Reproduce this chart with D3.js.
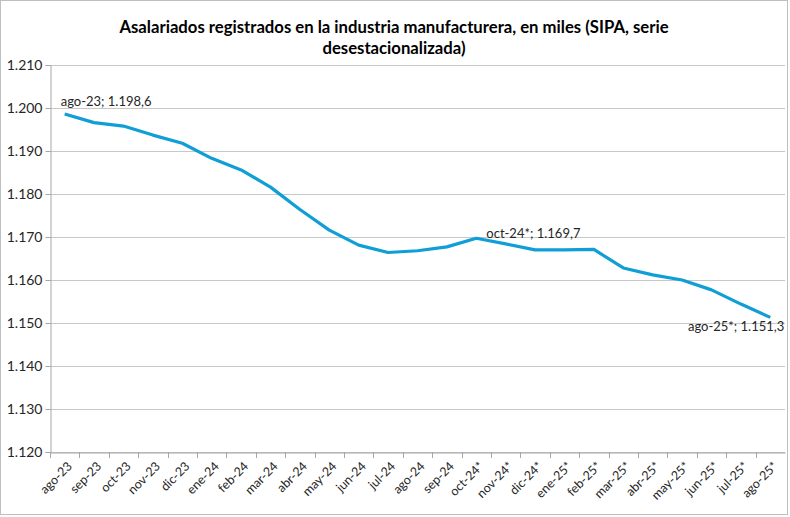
<!DOCTYPE html>
<html>
<head>
<meta charset="utf-8">
<script src="https://cdn.jsdelivr.net/npm/d3@7"></script>
<style>
  body { margin: 0; background: #fff; }
  text { font-family: Lato, "Open Sans", sans-serif; }
</style>
</head>
<body>
<div id="chart"></div>
<script>
const months = ["ago-23","sep-23","oct-23","nov-23","dic-23","ene-24","feb-24","mar-24","abr-24","may-24","jun-24","jul-24",
    "ago-24","sep-24","oct-24*","nov-24*","dic-24*","ene-25*","feb-25*","mar-25*","abr-25*","may-25*","jun-25*","jul-25*","ago-25*"];
const values = [1198.6, 1196.6, 1195.8, 1193.7, 1191.8, 1188.3, 1185.6, 1181.6, 1176.4, 1171.6, 1168.1, 1166.4,
    1166.8, 1167.7, 1169.7, 1168.4, 1167.0, 1167.0, 1167.1, 1162.8, 1161.2, 1160.0, 1157.7, 1154.4, 1151.3];
const yTicks = [1120, 1130, 1140, 1150, 1160, 1170, 1180, 1190, 1200, 1210];
const labelled = ["ago-23", "oct-24*", "ago-25*"];
const titleLines = ["Asalariados registrados en la industria manufacturera, en miles (SIPA, serie", "desestacionalizada)"];

const width = 790, height = 517;
const margin = {top: 65, right: 5, bottom: 65, left: 50};

const svg = d3.select('#chart')
    .append('svg')
    .attr('width', width)
    .attr('height', height);

// chart border
svg.append('rect')
    .attr('x', 0.5).attr('y', 0.5)
    .attr('width', width - 3).attr('height', height - 3)
    .attr('fill', '#fff')
    .attr('stroke', '#bfbfbf');

const x = d3.scaleBand()
    .domain(months)
    .range([margin.left, width - margin.right]);

const y = d3.scaleLinear()
    .domain([1120, 1210])
    .range([height - margin.bottom, margin.top]);

const fmt = d3.formatLocale({decimal: ",", thousands: ".", grouping: [3], currency: ["$", ""]});
const fmtTick = fmt.format(",.0f");
const fmtVal = fmt.format(",.1f");

// gridlines
svg.append('g')
    .selectAll('line')
    .data(yTicks)
    .join('line')
    .attr('x1', margin.left).attr('x2', width - margin.right)
    .attr('y1', d => Math.round(y(d)) + 0.5).attr('y2', d => Math.round(y(d)) + 0.5)
    .attr('stroke', '#c8c8c8');

// y axis
const yAxis = svg.append('g')
    .attr('transform', `translate(${margin.left + 0.5},0)`)
    .call(d3.axisLeft(y).tickValues(yTicks).tickFormat(fmtTick).tickSize(5).tickPadding(3));
yAxis.select('.domain').attr('stroke', '#a6a6a6');
yAxis.selectAll('.tick line').attr('stroke', '#a6a6a6');
yAxis.selectAll('text')
    .attr('font-size', 14)
    .attr('fill', '#262626')
    .style('font-family', 'Lato, sans-serif');

// x axis
const xAxis = svg.append('g')
    .attr('transform', `translate(0,${Math.round(y(1120)) + 0.5})`)
    .call(d3.axisBottom(x).tickSize(0).tickFormat(''));
xAxis.select('.domain').attr('stroke', '#a6a6a6');

// tick marks at category boundaries
svg.append('g')
    .selectAll('line')
    .data(months)
    .join('line')
    .attr('x1', d => Math.round(x(d)) + 0.5).attr('x2', d => Math.round(x(d)) + 0.5)
    .attr('y1', Math.round(y(1120))).attr('y2', Math.round(y(1120)) + 6)
    .attr('stroke', '#a6a6a6');

svg.append('g')
    .selectAll('text')
    .data(months)
    .join('text')
    .attr('transform', d => `translate(${x(d) + x.bandwidth() / 2 + 5},${y(1120) + 12}) rotate(-45)`)
    .attr('text-anchor', 'end')
    .attr('dy', '0.35em')
    .attr('font-size', 12.5)
    .attr('fill', '#262626')
    .text(d => d);

// line
const line = d3.line()
    .x((d, i) => x(months[i]) + x.bandwidth() / 2)
    .y(d => y(d));

svg.append('path')
    .datum(values)
    .attr('d', line)
    .attr('fill', 'none')
    .attr('stroke', '#0f9ed5')
    .attr('stroke-width', 3.2)
    .attr('stroke-linejoin', 'round');

// data labels
const labelOffsets = {"ago-23": [-4, -8, 'start'], "oct-24*": [10, 0, 'start'], "ago-25*": [14, 14, 'end']};
svg.append('g')
    .selectAll('text')
    .data(labelled)
    .join('text')
    .attr('x', d => x(d) + x.bandwidth() / 2 + labelOffsets[d][0])
    .attr('y', d => y(values[months.indexOf(d)]) + labelOffsets[d][1])
    .attr('text-anchor', d => labelOffsets[d][2])
    .attr('font-size', 13)
    .attr('fill', '#262626')
    .text(d => `${d}; ${fmtVal(values[months.indexOf(d)])}`);

// title
svg.append('g')
    .selectAll('text')
    .data(titleLines)
    .join('text')
    .attr('x', 394)
    .attr('y', (d, i) => 33 + i * 21)
    .attr('text-anchor', 'middle')
    .attr('font-size', 16.7)
    .attr('font-weight', 'bold')
    .attr('fill', '#000')
    .text(d => d);
</script>
</body>
</html>
